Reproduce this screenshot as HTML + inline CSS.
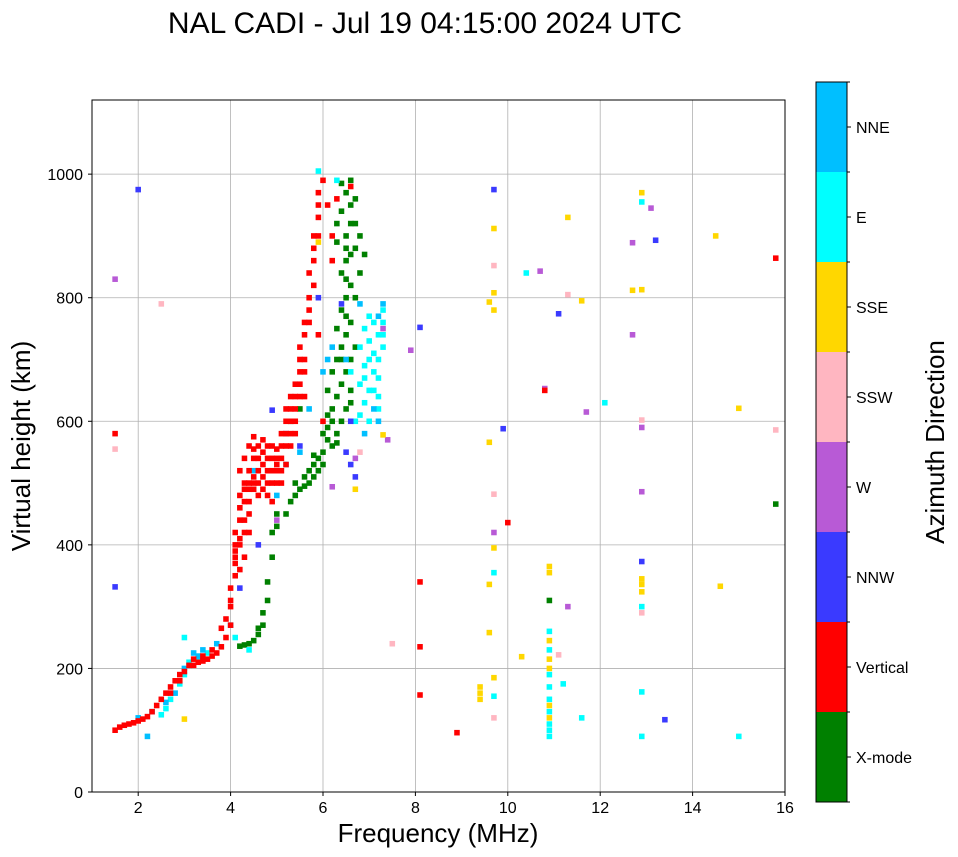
<!DOCTYPE html>
<html><head><meta charset="utf-8"><style>
html,body{margin:0;padding:0;background:#fff;}
svg{display:block;font-family:"Liberation Sans","DejaVu Sans",sans-serif;}
</style></head><body>
<svg id="chart" width="958" height="857" viewBox="0 0 958 857">
<text x="425" y="33" font-size="30" text-anchor="middle">NAL CADI - Jul 19 04:15:00 2024 UTC</text>
<g id="grid"></g>
<g id="marks"></g>
<rect x="92" y="100" width="693" height="692" fill="none" stroke="#000" stroke-width="1"/>
<g id="axes"></g>
<text x="438" y="842" font-size="26" text-anchor="middle">Frequency (MHz)</text>
<text transform="translate(30,446) rotate(-90)" font-size="26" text-anchor="middle">Virtual height (km)</text>
<g id="cbar"></g>
<text transform="translate(944,442) rotate(-90)" font-size="26" text-anchor="middle">Azimuth Direction</text>
</svg>
<script>
const xTicks=[2,4,6,8,10,12,14,16];
const yTicks=[0,200,400,600,800,1000];
const dirNames=["X-mode","Vertical","NNW","W","SSW","SSE","E","NNE"];
const dirColors=["#008000","#ff0000","#3a3aff","#b85ad6","#ffb6c1","#ffd700","#00ffff","#00bfff"];
const verticalPts=[[1.5,100],[1.6,105],[1.7,108],[1.8,110],[1.9,112],[2.0,115],[2.1,118],[2.2,122],[2.3,130],[2.4,140],[2.5,150],[2.6,160],[2.7,170],[2.8,180],[2.9,190],[3.0,195],[3.1,205],[3.2,205],[3.3,210],[3.4,212],[3.5,215],[3.6,220],[3.7,225],[3.8,235],[3.9,250],[4.0,270],[4.0,300],[4.0,330],[4.1,350],[4.1,380],[4.1,400],[4.1,420],[4.2,440],[4.2,460],[4.2,480],[4.3,470],[4.3,500],[4.3,540],[4.4,490],[4.4,520],[4.4,560],[4.5,500],[4.5,540],[4.5,575],[4.6,480],[4.6,520],[4.6,560],[4.7,510],[4.7,550],[4.8,500],[4.8,540],[4.9,520],[4.9,560],[5.0,520],[5.0,555],[5.1,540],[5.1,580],[5.2,560],[5.2,600],[5.3,580],[5.3,620],[5.3,640],[5.4,620],[5.4,660],[5.5,660],[5.5,700],[5.6,700],[5.6,740],[5.7,760],[5.7,800],[5.7,840],[5.8,820],[5.8,880],[5.9,900],[5.9,950],[6.0,990],[6.6,980],[8.1,340],[8.1,235],[8.1,157],[8.9,96],[10.8,650],[10.0,436],[15.8,864],[1.5,580],[4.3,380],[4.2,400],[4.4,420],[4.7,490],[4.9,500],[5.0,540],[5.2,530],[4.6,540],[4.8,520],[4.5,510],[4.4,470],[4.2,360],[4.3,440],[5.1,520],[5.4,580],[5.6,640],[5.3,600],[5.5,680],[5.8,860],[5.9,930],[6.2,860],[6.0,600],[4.8,560],[5.0,500],[4.1,390],[4.1,370],[4.2,410],[4.0,310],[3.9,280],[3.8,265],[4.3,490],[4.4,500],[4.5,490],[4.6,500],[4.7,530],[4.8,480],[4.9,540],[5.0,530],[5.1,560],[5.2,580],[5.3,560],[5.2,620],[5.4,640],[5.5,640],[5.5,720],[5.6,760],[5.7,780],[5.6,680],[5.4,600],[4.5,555],[4.7,570],[4.9,470],[5.1,500],[3.6,230],[3.4,220],[3.2,215],[2.9,180],[2.7,160],[5.8,900],[5.9,970],[6.1,950],[6.2,900],[6.3,960],[5.9,740],[4.3,420],[4.2,520],[4.4,450]];
const xmodePts=[[4.2,236],[4.3,238],[4.4,240],[4.5,245],[4.6,255],[4.7,270],[4.7,290],[4.8,310],[4.8,340],[4.9,380],[4.9,420],[5.0,430],[5.2,450],[5.3,470],[5.4,480],[5.5,490],[5.6,495],[5.7,500],[5.8,510],[5.9,520],[5.9,540],[6.0,550],[6.0,580],[6.1,590],[6.2,560],[6.3,565],[6.4,600],[6.2,620],[6.3,640],[6.4,660],[6.5,680],[6.3,700],[6.4,720],[6.5,740],[6.6,760],[6.4,780],[6.5,800],[6.6,820],[6.4,840],[6.5,860],[6.7,880],[6.5,900],[6.6,920],[6.4,940],[6.6,950],[6.5,970],[6.4,985],[6.7,960],[6.8,900],[6.9,870],[6.8,840],[6.2,680],[6.1,650],[5.8,545],[6.6,650],[6.6,630],[10.9,310],[15.8,466],[5.5,620],[5.3,600],[6.3,890],[6.6,870],[6.5,830],[6.3,750],[6.7,720],[6.1,610],[5.7,520],[6.0,530],[5.6,510],[5.8,530],[6.1,570],[6.3,580],[6.5,620],[6.4,700],[6.6,700],[6.5,770],[6.7,800],[6.5,880],[6.7,920],[6.6,990],[6.3,920],[4.6,265],[5.0,450],[5.4,500],[6.2,600]];
const ePts=[[6.8,610],[6.9,630],[7.0,650],[7.1,680],[7.2,700],[7.3,720],[7.2,740],[7.3,760],[7.3,780],[7.0,700],[6.9,670],[7.1,760],[7.2,640],[6.7,600],[6.8,720],[7.0,730],[2.5,125],[2.6,135],[2.7,150],[2.9,175],[3.0,190],[3.1,210],[3.3,215],[3.5,225],[3.0,250],[10.9,90],[10.9,100],[10.9,110],[10.9,130],[10.9,150],[10.9,170],[10.9,190],[10.9,230],[10.9,260],[12.9,90],[15.0,90],[12.9,162],[12.9,300],[12.9,955],[9.7,355],[9.7,155],[10.4,840],[12.1,630],[11.6,120],[11.2,175],[5.9,1005],[6.3,990],[6.6,680],[4.1,250],[4.4,230],[7.1,710],[6.9,750],[7.0,600],[7.1,650],[7.2,670],[6.9,690],[7.3,740],[7.0,770],[6.8,660],[7.2,620]];
const nnePts=[[2.0,120],[2.3,130],[2.8,160],[3.0,200],[3.2,225],[3.4,230],[3.7,240],[4.0,270],[4.5,520],[5.0,480],[5.5,550],[6.0,680],[6.1,700],[6.2,720],[6.5,700],[7.3,790],[7.2,600],[6.8,790],[2.2,90],[6.9,580],[5.7,620],[7.1,620],[7.2,770],[3.3,220],[2.6,145],[5.2,530]];
const nnwPts=[[4.9,618],[5.5,560],[6.5,550],[6.6,530],[6.7,510],[5.9,800],[6.4,790],[5.2,580],[4.6,400],[13.4,117],[13.2,893],[12.9,373],[11.1,774],[8.1,752],[9.7,975],[6.6,600],[4.2,330],[1.5,332],[2.0,975],[9.9,588]];
const wPts=[[12.7,889],[12.7,740],[12.9,590],[12.9,486],[13.1,945],[11.3,300],[11.7,615],[10.8,653],[10.7,843],[7.3,750],[7.4,570],[7.9,715],[6.7,540],[6.2,494],[1.5,830],[9.7,420],[5.0,440]];
const sswPts=[[2.5,790],[12.9,602],[12.9,290],[11.3,805],[9.7,852],[9.7,482],[11.1,222],[7.5,240],[15.8,586],[9.7,120],[6.8,550],[1.5,555]];
const ssePts=[[12.9,970],[12.7,812],[12.9,813],[12.9,345],[12.9,336],[12.9,324],[14.5,900],[15.0,621],[14.6,333],[11.3,930],[11.6,795],[9.7,912],[9.7,808],[9.7,780],[9.6,793],[9.6,566],[9.6,336],[9.6,258],[9.4,170],[9.4,160],[9.4,150],[10.3,219],[10.9,200],[10.9,215],[10.9,245],[10.9,355],[10.9,365],[7.3,578],[6.7,490],[3.0,118],[5.9,890],[9.7,185],[9.7,395],[10.9,120],[10.9,140]];
const series=[[xmodePts,0],[ePts,6],[nnePts,7],[nnwPts,2],[wPts,3],[sswPts,4],[ssePts,5],[verticalPts,1]];

const NS="http://www.w3.org/2000/svg";
const X0=92,X1=785,Y0=792,Y1=100,FMIN=1,FMAX=16,HMIN=0,HMAX=1120;
function xs(f){return X0+(f-FMIN)/(FMAX-FMIN)*(X1-X0);}
function ys(h){return Y0-(h-HMIN)/(HMAX-HMIN)*(Y0-Y1);}
function mk(tag,attrs,parent){const e=document.createElementNS(NS,tag);for(const k in attrs)e.setAttribute(k,attrs[k]);parent.appendChild(e);return e;}
const grid=document.getElementById('grid'),axes=document.getElementById('axes'),marks=document.getElementById('marks'),cbar=document.getElementById('cbar');
xTicks.forEach(t=>{const x=xs(t);
 const g=mk('line',{x1:x,x2:x,y1:Y1,y2:Y0,stroke:'#b0b0b0','stroke-width':0.8},grid);
 
 
 mk('line',{x1:x,x2:x,y1:Y0,y2:Y0+4,stroke:'#000'},axes);
 const l=mk('text',{x:x,y:Y0+21,'font-size':16,'text-anchor':'middle'},axes);l.textContent=t;
 
 
});
yTicks.forEach(t=>{const y=ys(t);
 const g=mk('line',{x1:X0,x2:X1,y1:y,y2:y,stroke:'#b0b0b0','stroke-width':0.8},grid);
 
 
 mk('line',{x1:X0-4,x2:X0,y1:y,y2:y,stroke:'#000'},axes);
 const l=mk('text',{x:X0-9,y:y+6,'font-size':16,'text-anchor':'end'},axes);l.textContent=t;
 
 
});
const cw=xs(1.12)-xs(1.0), ch=ys(0)-ys(9);
series.forEach(([pts,d])=>{pts.forEach(p=>{
 const r=mk('rect',{x:xs(p[0])-cw/2,y:ys(p[1])-ch/2,width:cw,height:ch,fill:dirColors[d]},marks);
 
 
});});
const CX=816,CW=31,CY0=802,CY1=82,seg=(CY0-CY1)/dirNames.length;
dirNames.forEach((n,i)=>{const y=CY0-(i+1)*seg;
 const r=mk('rect',{x:CX,y:y,width:CW,height:seg,fill:dirColors[i]},cbar);
 
 
 mk('line',{x1:CX+CW,x2:CX+CW+4,y1:y+seg/2,y2:y+seg/2,stroke:'#000'},cbar);
 const l=mk('text',{x:CX+CW+9,y:y+seg/2+6,'font-size':16},cbar);l.textContent=n;
 
 
});
for(let i=0;i<=dirNames.length;i++){const y=CY0-i*seg;mk('line',{x1:CX+CW,x2:CX+CW+3,y1:y,y2:y,stroke:'#000'},cbar);}
mk('rect',{x:CX,y:CY1,width:CW,height:CY0-CY1,fill:'none',stroke:'#000'},cbar);
</script>
</body></html>
